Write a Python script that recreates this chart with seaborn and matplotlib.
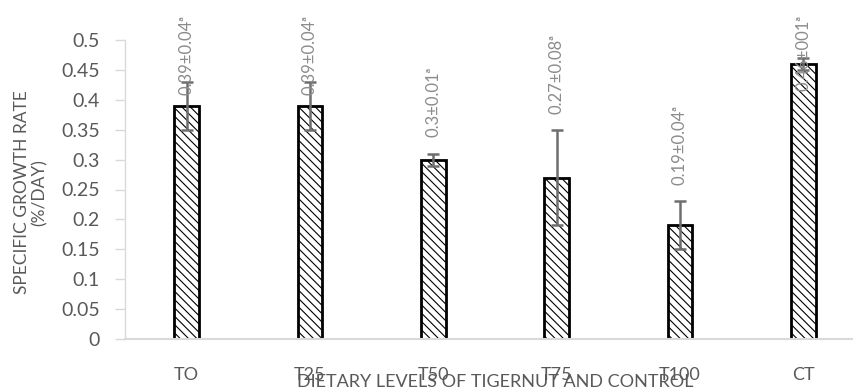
import matplotlib
matplotlib.use('Agg')
import matplotlib.pyplot as plt
import seaborn as sns
import pandas as pd

# values
treatments = ['TO', 'T25', 'T50', 'T75', 'T100', 'CT']
sgr_mean = [0.39, 0.39, 0.30, 0.27, 0.19, 0.46]
sgr_err = [0.04, 0.04, 0.01, 0.08, 0.04, 0.01]
bar_labels = ['0.39±0.04ᵃ', '0.39±0.04ᵃ', '0.3±0.01ᵃ', '0.27±0.08ᵃ', '0.19±0.04ᵃ', '0.46±001ᵃ']
y_ticks = [0, 0.05, 0.1, 0.15, 0.2, 0.25, 0.3, 0.35, 0.4, 0.45, 0.5]

df = pd.DataFrame({'treatment': treatments, 'sgr': sgr_mean, 'err': sgr_err})

sns.set_theme(style='white')
plt.rcParams['font.family'] = ['Lato', 'DejaVu Sans']
plt.rcParams['hatch.linewidth'] = 0.8

grey_txt = '#595959'
grey_line = '#d9d9d9'

fig = plt.figure(figsize=(8.54, 3.9), dpi=100)
ax = fig.add_axes([125 / 854, 51 / 390, 740 / 854, 299 / 390])

sns.barplot(data=df, x='treatment', y='sgr', ax=ax, width=0.2, color='white',
            edgecolor='black', linewidth=2)
for p in ax.patches:
    p.set_hatch('\\\\\\\\')
    p.set_facecolor('white')

ax.errorbar(range(len(treatments)), df['sgr'], yerr=df['err'], fmt='none',
            ecolor='#6e6e6e', elinewidth=1.8, capsize=4, capthick=1.8, zorder=5)

# value labels, pushed down when they would run off the top
for i, (v, e, lab) in enumerate(zip(sgr_mean, sgr_err, bar_labels)):
    y0 = v + e + 0.027
    if y0 + 0.145 > 0.542:
        ax.text(i, 0.542, lab, rotation=90, ha='center', va='top', fontsize=12,
                color='#8c8c8c', clip_on=False, zorder=6)
    else:
        ax.text(i, y0, lab, rotation=90, ha='center', va='bottom', fontsize=12,
                color='#8c8c8c', clip_on=False, zorder=6)

ax.set_ylim(0, 0.5)
ax.set_xlim(-0.5, len(treatments) - 0.5)
ax.set_yticks(y_ticks)
ax.set_yticklabels([f'{t:g}' for t in y_ticks])
ax.tick_params(axis='y', which='both', left=True, length=7, width=1, color=grey_line,
               labelsize=14, labelcolor=grey_txt, pad=11)
ax.tick_params(axis='x', bottom=False, labelsize=13, labelcolor=grey_txt, pad=14)

for s in ['top', 'right']:
    ax.spines[s].set_visible(False)
ax.spines['left'].set_color(grey_line)
ax.spines['left'].set_linewidth(1)
ax.spines['bottom'].set_color(grey_line)
ax.spines['bottom'].set_linewidth(1.5)

ax.set_ylabel('SPECIFIC GROWTH RATE\n(%/DAY)', fontsize=12.5, color=grey_txt, linespacing=1.1)
ax.yaxis.set_label_coords(-0.105, 0.49)
ax.set_xlabel('DIETARY LEVELS OF TIGERNUT AND CONTROL', fontsize=13, color=grey_txt, va='center')
ax.xaxis.set_label_coords(0.5, -0.145)

fig.savefig('out.png', dpi=100)
